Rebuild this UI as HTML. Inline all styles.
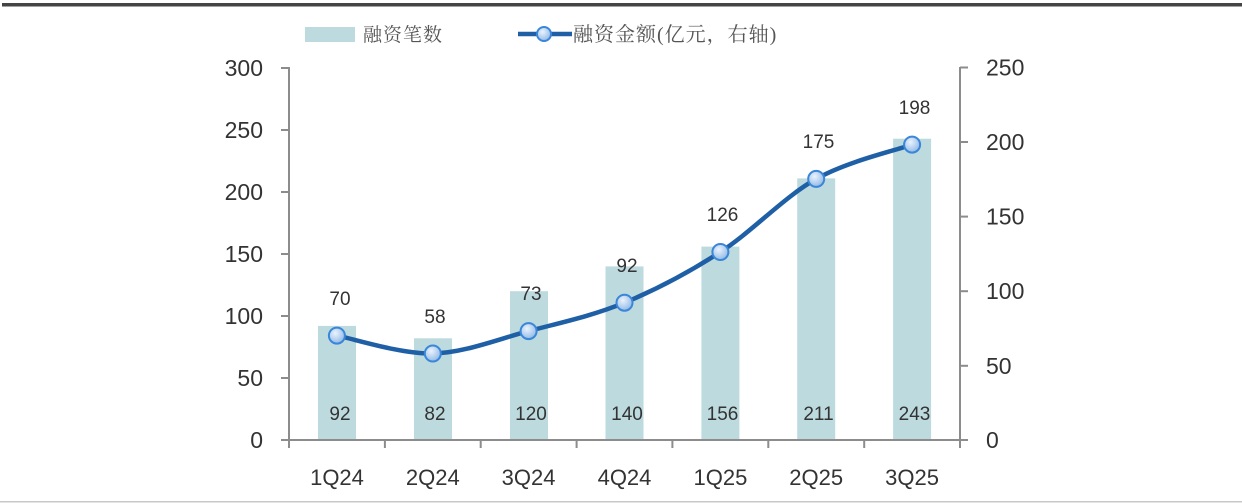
<!DOCTYPE html>
<html><head><meta charset="utf-8"><style>
html,body{margin:0;padding:0;background:#fff;}
svg{display:block;}
</style></head><body>
<svg width="1242" height="504" viewBox="0 0 1242 504" xmlns="http://www.w3.org/2000/svg">
<defs>
<radialGradient id="mk" cx="40%" cy="35%" r="70%">
<stop offset="0" stop-color="#eaf3fc"/>
<stop offset="1" stop-color="#8db6e6"/>
</radialGradient>
</defs>
<rect x="0" y="0" width="1242" height="504" fill="#fff"/>
<rect x="2" y="3" width="1240" height="3.5" fill="#444"/>
<rect x="0" y="501" width="1242" height="1.5" fill="#c8c8c8"/>

<!-- legend -->
<rect x="305" y="27" width="50" height="15" fill="#bddadf"/>
<text x="363" y="41" font-family="'Liberation Serif','Noto Serif CJK SC',serif" font-size="19" fill="#555" letter-spacing="1">融资笔数</text>
<line x1="518" y1="34" x2="572" y2="34" stroke="#1f5fa5" stroke-width="4.5"/>
<circle cx="544" cy="34" r="7" fill="url(#mk)" stroke="#3a86d8" stroke-width="2"/>
<text x="573" y="41" font-family="'Liberation Serif','Noto Serif CJK SC',serif" font-size="20" fill="#555" letter-spacing="1">融资金额(亿元，右轴)</text>

<!-- bars -->
<g fill="#bddadf">
<rect x="318" y="325.9" width="38" height="114.1"/>
<rect x="414" y="338.3" width="38" height="101.7"/>
<rect x="510" y="291.2" width="38" height="148.8"/>
<rect x="605.5" y="266.4" width="38" height="173.6"/>
<rect x="701.4" y="246.6" width="38" height="193.4"/>
<rect x="797.2" y="178.4" width="38" height="261.6"/>
<rect x="893.1" y="138.7" width="38" height="301.3"/>
</g>

<!-- axes -->
<g stroke="#8c8c8c" stroke-width="2" fill="none">
<line x1="289" y1="67" x2="289" y2="448"/>
<line x1="960" y1="67" x2="960" y2="448"/>
<line x1="281" y1="440" x2="968" y2="440"/>
<!-- left ticks -->
<line x1="281" y1="68" x2="289" y2="68"/>
<line x1="281" y1="130" x2="289" y2="130"/>
<line x1="281" y1="192" x2="289" y2="192"/>
<line x1="281" y1="254" x2="289" y2="254"/>
<line x1="281" y1="316" x2="289" y2="316"/>
<line x1="281" y1="378" x2="289" y2="378"/>
<!-- right ticks -->
<line x1="960" y1="67.5" x2="968" y2="67.5"/>
<line x1="960" y1="142" x2="968" y2="142"/>
<line x1="960" y1="216.6" x2="968" y2="216.6"/>
<line x1="960" y1="291.2" x2="968" y2="291.2"/>
<line x1="960" y1="365.8" x2="968" y2="365.8"/>
<!-- x ticks -->
<line x1="384.9" y1="440" x2="384.9" y2="448"/>
<line x1="480.7" y1="440" x2="480.7" y2="448"/>
<line x1="576.6" y1="440" x2="576.6" y2="448"/>
<line x1="672.4" y1="440" x2="672.4" y2="448"/>
<line x1="768.3" y1="440" x2="768.3" y2="448"/>
<line x1="864.2" y1="440" x2="864.2" y2="448"/>
</g>

<!-- left labels -->
<g font-family="'Liberation Sans',sans-serif" font-size="23" fill="#333" text-anchor="end">
<text x="263" y="76">300</text>
<text x="263" y="138">250</text>
<text x="263" y="200">200</text>
<text x="263" y="262">150</text>
<text x="263" y="324">100</text>
<text x="263" y="386">50</text>
<text x="263" y="448">0</text>
</g>
<!-- right labels -->
<g font-family="'Liberation Sans',sans-serif" font-size="23" fill="#333" text-anchor="start">
<text x="986" y="75.5">250</text>
<text x="986" y="150">200</text>
<text x="986" y="224.6">150</text>
<text x="986" y="299.2">100</text>
<text x="986" y="373.8">50</text>
<text x="986" y="448">0</text>
</g>
<!-- category labels -->
<g font-family="'Liberation Sans',sans-serif" font-size="22" fill="#333" text-anchor="middle">
<text x="337" y="485">1Q24</text>
<text x="432.8" y="485">2Q24</text>
<text x="528.6" y="485">3Q24</text>
<text x="624.5" y="485">4Q24</text>
<text x="720.4" y="485">1Q25</text>
<text x="816.2" y="485">2Q25</text>
<text x="912.1" y="485">3Q25</text>
</g>

<!-- line -->
<path d="M336.9,335.6 C352.9,338.6 400.85,354.25 432.8,353.5 C464.75,352.75 496.65,339.57 528.6,331.1 C560.55,322.63 592.55,315.88 624.5,302.7 C656.45,289.52 688.45,272.63 720.4,252.0 C752.35,231.37 784.25,196.8 816.2,178.9 C848.15,161.0 896.1,150.32 912.1,144.6" fill="none" stroke="#1f5fa5" stroke-width="4.5" stroke-linecap="round"/>
<g fill="url(#mk)" stroke="#3a86d8" stroke-width="2">
<circle cx="336.9" cy="335.6" r="8"/>
<circle cx="432.8" cy="353.5" r="8"/>
<circle cx="528.6" cy="331.1" r="8"/>
<circle cx="624.5" cy="302.7" r="8"/>
<circle cx="720.4" cy="252.0" r="8"/>
<circle cx="816.2" cy="178.9" r="8"/>
<circle cx="912.1" cy="144.6" r="8"/>
</g>

<!-- line data labels -->
<g font-family="'Liberation Sans',sans-serif" font-size="19" fill="#333" text-anchor="middle">
<text x="340" y="305">70</text>
<text x="435" y="323">58</text>
<text x="531" y="300">73</text>
<text x="627" y="272">92</text>
<text x="722.5" y="221">126</text>
<text x="818.5" y="148">175</text>
<text x="914.5" y="114">198</text>
</g>
<!-- bar data labels -->
<g font-family="'Liberation Sans',sans-serif" font-size="19" fill="#333" text-anchor="middle">
<text x="340" y="420">92</text>
<text x="435" y="420">82</text>
<text x="531" y="420">120</text>
<text x="627" y="420">140</text>
<text x="722.5" y="420">156</text>
<text x="818.5" y="420">211</text>
<text x="914.5" y="420">243</text>
</g>
</svg>
</body></html>
